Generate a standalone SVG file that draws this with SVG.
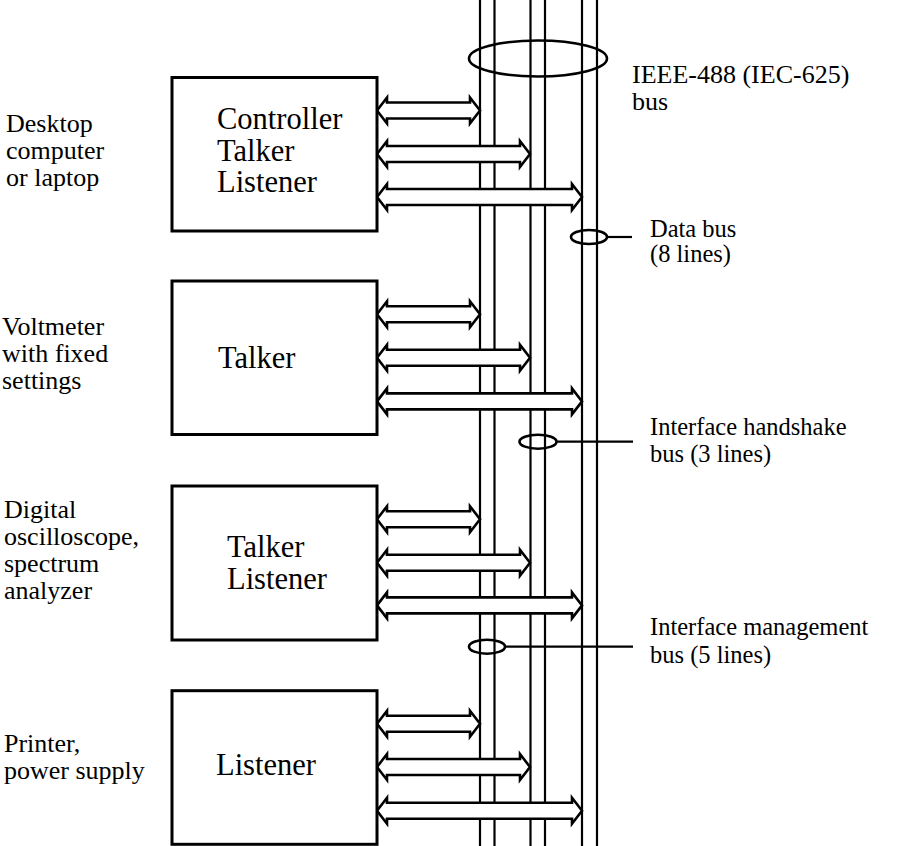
<svg xmlns="http://www.w3.org/2000/svg" width="900" height="846" viewBox="0 0 900 846">
<style>
.box{fill:#fff;stroke:#000;stroke-width:3}
.bus{stroke:#000;stroke-width:2.2;fill:none}
.arr{fill:#fff;stroke:#000;stroke-width:2.6;stroke-linejoin:miter}
.ell{fill:none;stroke:#000;stroke-width:2.6}
text{font-family:'Liberation Serif','Times New Roman','DejaVu Serif',serif;fill:#000}
.bt{font-size:30.5px}
.lt{font-size:26px}
.it{font-size:26px}
.rt{font-size:24.5px}
</style>
<defs>
<path id="a1" d="M0,0 L10,-13 L10,-8 L93,-8 L93,-13 L103,0 L93,13 L93,8 L10,8 L10,13 Z"/>
<path id="a2" d="M0,0 L10,-13 L10,-8 L143,-8 L143,-13 L153,0 L143,13 L143,8 L10,8 L10,13 Z"/>
<path id="a3" d="M0,0 L10,-13 L10,-8 L195,-8 L195,-13 L205,0 L195,13 L195,8 L10,8 L10,13 Z"/>
</defs>
<rect width="900" height="846" fill="#fff"/>
<g id="bus-lines">
<line class="bus" x1="480" y1="0" x2="480" y2="846"/>
<line class="bus" x1="494.5" y1="0" x2="494.5" y2="846"/>
<line class="bus" x1="530.5" y1="0" x2="530.5" y2="846"/>
<line class="bus" x1="545" y1="0" x2="545" y2="846"/>
<line class="bus" x1="582" y1="0" x2="582" y2="846"/>
<line class="bus" x1="597" y1="0" x2="597" y2="846"/>
</g>
<g id="connectors">
<use href="#a1" class="arr" transform="translate(377,110.5)"/>
<use href="#a2" class="arr" transform="translate(377,154)"/>
<use href="#a3" class="arr" transform="translate(377,197)"/>
<use href="#a1" class="arr" transform="translate(377,314.2)"/>
<use href="#a2" class="arr" transform="translate(377,357.7)"/>
<use href="#a3" class="arr" transform="translate(377,401.4)"/>
<use href="#a1" class="arr" transform="translate(377,519.2)"/>
<use href="#a2" class="arr" transform="translate(377,562.7)"/>
<use href="#a3" class="arr" transform="translate(377,605.4)"/>
<use href="#a1" class="arr" transform="translate(377,723.8)"/>
<use href="#a2" class="arr" transform="translate(377,767)"/>
<use href="#a3" class="arr" transform="translate(377,810.8)"/>
</g>
<g id="bus-labels">
<ellipse class="ell" cx="538" cy="58.5" rx="69" ry="18"/>
<text class="it" x="632" y="83">IEEE-488 (IEC-625)</text>
<text class="it" x="632" y="110">bus</text>
<ellipse class="ell" cx="589" cy="237" rx="18" ry="7"/>
<line class="bus" x1="607" y1="237" x2="632" y2="237"/>
<text class="rt" x="650" y="237">Data bus</text>
<text class="rt" x="650" y="262">(8 lines)</text>
<ellipse class="ell" cx="538" cy="441.7" rx="18.5" ry="7"/>
<line class="bus" x1="556.5" y1="441.7" x2="633" y2="441.7"/>
<text class="rt" x="650" y="435">Interface handshake</text>
<text class="rt" x="650" y="462">bus (3 lines)</text>
<ellipse class="ell" cx="487" cy="646.7" rx="18" ry="7"/>
<line class="bus" x1="505" y1="646.7" x2="633" y2="646.7"/>
<text class="rt" x="650" y="635">Interface management</text>
<text class="rt" x="650" y="663">bus (5 lines)</text>
</g>
<g id="node-controller">
<rect class="box" x="172" y="77.5" width="205" height="153.5"/>
<text class="bt" x="217" y="129">Controller</text>
<text class="bt" x="217" y="160.5">Talker</text>
<text class="bt" x="217" y="192">Listener</text>
<text class="lt" x="6" y="132">Desktop</text>
<text class="lt" x="6" y="159">computer</text>
<text class="lt" x="6" y="186">or laptop</text>
</g>
<g id="node-talker">
<rect class="box" x="172" y="281" width="205" height="153.5"/>
<text class="bt" x="218" y="368">Talker</text>
<text class="lt" x="2" y="335">Voltmeter</text>
<text class="lt" x="2" y="362">with fixed</text>
<text class="lt" x="2" y="389">settings</text>
</g>
<g id="node-talker-listener">
<rect class="box" x="172" y="486" width="205" height="154"/>
<text class="bt" x="227" y="557">Talker</text>
<text class="bt" x="227" y="589">Listener</text>
<text class="lt" x="4" y="518">Digital</text>
<text class="lt" x="4" y="545">oscilloscope,</text>
<text class="lt" x="4" y="572">spectrum</text>
<text class="lt" x="4" y="599">analyzer</text>
</g>
<g id="node-listener">
<rect class="box" x="172" y="690.7" width="205" height="153.6"/>
<text class="bt" x="216" y="775">Listener</text>
<text class="lt" x="4" y="752">Printer,</text>
<text class="lt" x="4" y="779">power supply</text>
</g>
</svg>
